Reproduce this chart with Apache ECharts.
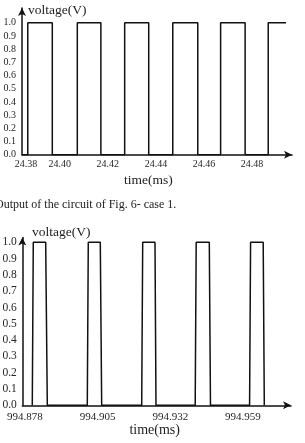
<!DOCTYPE html>
<html>
<head>
<meta charset="utf-8">
<script src="https://cdn.jsdelivr.net/npm/echarts@6/dist/echarts.min.js"></script>
<style>
html,body{margin:0;padding:0;background:#fff;}
#c{width:305px;height:443px;}
</style>
</head>
<body>
<div id="c"></div>
<script>
// ---- Top chart data (time in ms, voltage in V) ----
var topStart = 24.3843;
var topRise = [24.3867, 24.4073, 24.4270, 24.4470, 24.4669, 24.4867];
var topFall = [24.3969, 24.4171, 24.4370, 24.4574, 24.4771];
var topEnd = 24.4941;
var topXTickValues = [24.3843, 24.40, 24.42, 24.44, 24.46, 24.48];
var topXTickLabels = ['24.38', '24.40', '24.42', '24.44', '24.46', '24.48'];

// ---- Bottom chart data ----
var botRiseStart = [994.88071, 994.90115, 994.92137, 994.94125, 994.96146];
var botRiseEnd   = [994.88108, 994.90152, 994.92174, 994.94162, 994.96183];
var botFallStart = [994.88569, 994.90598, 994.92631, 994.94649, 994.96652];
var botFallEnd   = [994.88629, 994.90650, 994.92668, 994.94693, 994.96693];
var botXTickValues = [994.878, 994.905, 994.932, 994.959];
var botXTickLabels = ['994.878', '994.905', '994.932', '994.959'];

var yTickValues = [0, 0.1, 0.2, 0.3, 0.4, 0.5, 0.6, 0.7, 0.8, 0.9, 1.0];
var yTickLabels = ['0.0','0.1','0.2','0.3','0.4','0.5','0.6','0.7','0.8','0.9','1.0'];

// build series points
var topData = [[topStart, 0]];
for (var i = 0; i < topRise.length; i++) {
  topData.push([topRise[i], 0], [topRise[i], 1]);
  if (i < topFall.length) topData.push([topFall[i], 1], [topFall[i], 0]);
  else topData.push([topEnd, 1]);
}
var botData = [];
for (var j = 0; j < botRiseStart.length; j++) {
  botData.push([botRiseStart[j], 0], [botRiseEnd[j], 1], [botFallStart[j], 1], [botFallEnd[j], 0]);
}

var FONT = '"Liberation Serif", "DejaVu Serif", serif';
var AX = '#111';
var TXT = '#262626';
function labelOf(vals, labs) {
  return function (v) {
    for (var k = 0; k < vals.length; k++) if (Math.abs(vals[k] - v) < 1e-7) return labs[k];
    return '';
  };
}
function xAxisCfg(gi, min, max, vals, labs, fs, margin, firstPad) {
  var f = labelOf(vals, labs);
  return {
    type: 'value', gridIndex: gi, min: min, max: max,
    axisLine: { show: true, onZero: false, lineStyle: { color: AX, width: 1.5 }, symbol: ['none', 'arrow'], symbolSize: [6, 8] },
    axisTick: { show: false }, splitLine: { show: false },
    axisLabel: {
      customValues: vals, color: TXT, fontFamily: FONT, fontSize: fs, margin: margin,
      showMinLabel: true, showMaxLabel: true,
      formatter: function (v) { var s = f(v); return (firstPad && s === labs[0]) ? '{p|' + s + '}' : s; },
      rich: { p: { fontFamily: FONT, fontSize: fs, color: TXT, padding: [0, 0, 0, 8] } }
    }
  };
}
function yAxisCfg(gi, max, fs, margin) {
  return {
    type: 'value', gridIndex: gi, min: 0, max: max,
    axisLine: { show: true, onZero: false, lineStyle: { color: AX, width: 1.5 }, symbol: ['none', 'arrow'], symbolSize: [6, 8] },
    axisTick: { show: false }, splitLine: { show: false },
    axisLabel: {
      customValues: yTickValues, color: TXT, fontFamily: FONT, fontSize: fs, margin: margin,
      showMinLabel: true, showMaxLabel: true,
      formatter: labelOf(yTickValues, yTickLabels)
    }
  };
}

var chart = echarts.init(document.getElementById('c'), null, { renderer: 'canvas' });
chart.setOption({
  animation: false,
  backgroundColor: '#fff',
  grid: [
    { left: 22, top: 8, width: 270, height: 146.7, outerBoundsMode: 'none', containLabel: false },
    { left: 22.3, top: 237.5, width: 268.7, height: 167.8, outerBoundsMode: 'none', containLabel: false }
  ],
  xAxis: [
    xAxisCfg(0, topStart, 24.49659, topXTickValues, topXTickLabels, 10, 5, true),
    xAxisCfg(1, 994.8770, 994.97685, botXTickValues, botXTickLabels, 11, 6, false)
  ],
  yAxis: [
    yAxisCfg(0, 1.1114, 10, 6),
    yAxisCfg(1, 1.0294, 11.5, 5.5)
  ],
  series: [
    { type: 'line', xAxisIndex: 0, yAxisIndex: 0, data: topData, symbol: 'none', lineStyle: { color: AX, width: 1.5 } },
    { type: 'line', xAxisIndex: 1, yAxisIndex: 1, data: botData, symbol: 'none', lineStyle: { color: AX, width: 1.5 } }
  ],
  graphic: [
    { type: 'text', x: 28, y: 10, style: { text: 'voltage(V)', font: '13.5px ' + FONT, fill: '#222', align: 'left', verticalAlign: 'middle' } },
    { type: 'text', x: 148.3, y: 180, style: { text: 'time(ms)', font: '13.5px ' + FONT, fill: '#222', align: 'center', verticalAlign: 'middle' } },
    { type: 'text', x: -5, y: 205, style: { text: 'Output of the circuit of Fig. 6- case 1.', font: '12px ' + FONT, fill: '#222', align: 'left', verticalAlign: 'middle' } },
    { type: 'text', x: 32, y: 232, style: { text: 'voltage(V)', font: '13.5px ' + FONT, fill: '#222', align: 'left', verticalAlign: 'middle' } },
    { type: 'text', x: 154.7, y: 430, style: { text: 'time(ms)', font: '14px ' + FONT, fill: '#222', align: 'center', verticalAlign: 'middle' } }
  ]
});
</script>
</body>
</html>
